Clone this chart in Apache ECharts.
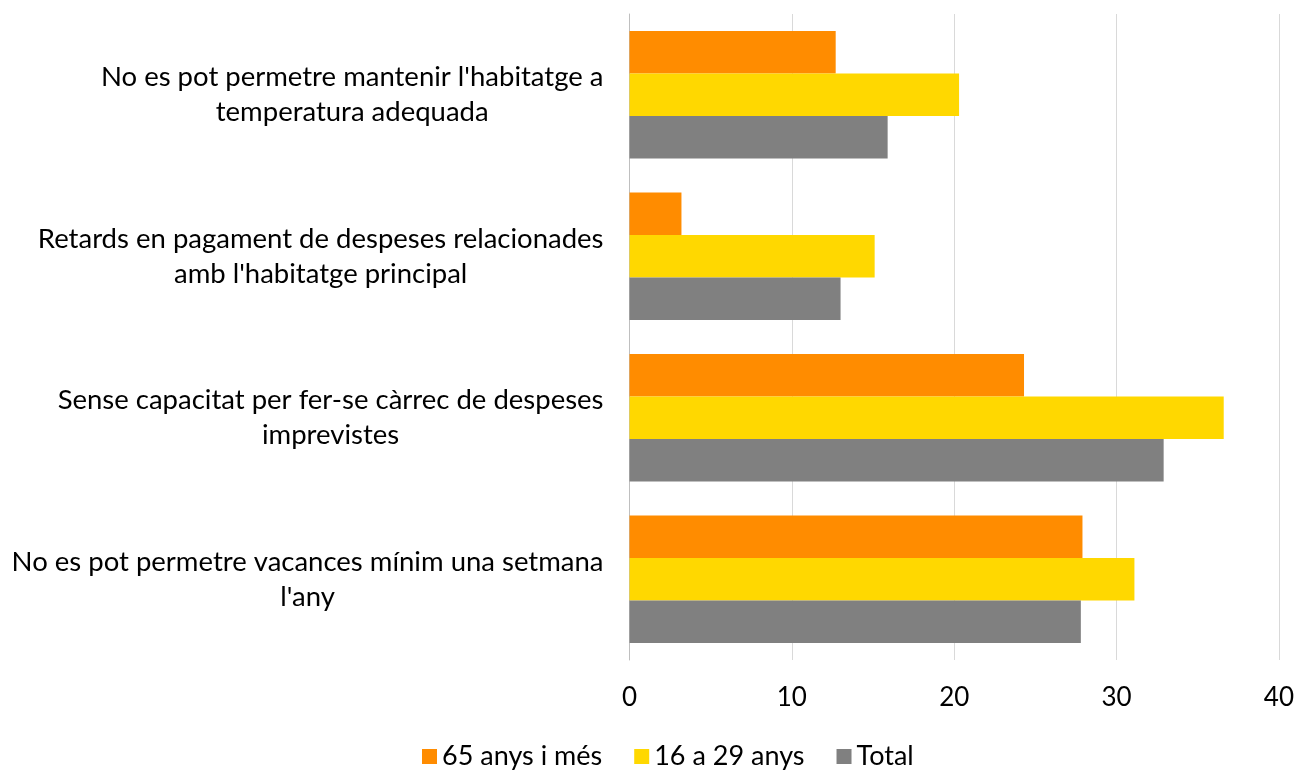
<!DOCTYPE html>
<html>
<head>
<meta charset="utf-8">
<script src="https://cdn.jsdelivr.net/npm/echarts@6/dist/echarts.min.js"></script>
<style>
	html, body { margin: 0; padding: 0; background: #fff; }
	#container { width: 1297px; height: 770px; }
</style>
</head>
<body>
<div id="container"></div>
<script>
var categories = [
	"No es pot permetre mantenir l'habitatge a\ntemperatura adequada",
	"Retards en pagament de despeses relacionades\namb l'habitatge principal",
	"Sense capacitat per fer-se càrrec de despeses\nimprevistes",
	"No es pot permetre vacances mínim una setmana\nl'any"
];
var seriesNames = ['65 anys i més', '16 a 29 anys', 'Total'];
var grans = [12.7, 3.2, 24.3, 27.9];		// 65 anys i més
var joves = [20.3, 15.1, 36.6, 31.1];		// 16 a 29 anys
var total = [15.9, 13.0, 32.9, 27.8];		// Total
var colors = ['#FF8C00', '#FFD800', '#808080'];

var fontName = 'Lato';
var dom = document.getElementById('container');
var chart = echarts.init(dom);

function barSeries(name, data, color) {
	return {
		name: name,
		type: 'bar',
		data: data,
		barGap: '0%',
		barCategoryGap: '21%',
		itemStyle: { color: color }
	};
}

var option = {
	animation: false,
	textStyle: { fontFamily: fontName },
	grid: {
		left: 629.5,
		right: 17,
		top: 14,
		bottom: 110
	},
	legend: {
		data: seriesNames,
		left: 417,
		top: 738,
		icon: 'rect',
		itemWidth: 15,
		itemHeight: 15,
		itemGap: 32,
		textStyle: { fontSize: 27, color: '#000', fontFamily: fontName }
	},
	xAxis: {
		type: 'value',
		min: 0,
		max: 40,
		interval: 10,
		axisLine: { show: false },
		axisTick: { show: false },
		splitLine: { lineStyle: { color: '#d9d9d9', width: 1 } },
		axisLabel: { fontSize: 26, color: '#000', margin: 25, fontFamily: fontName }
	},
	yAxis: {
		type: 'category',
		inverse: true,
		data: categories,
		axisLine: { show: true, lineStyle: { color: '#bfbfbf', width: 1 } },
		axisTick: { show: false },
		axisLabel: {
			margin: 26,
			align: 'right',
			formatter: function (v) { return '{c|' + v.split('\n').join('}\n{c|') + '}'; },
			rich: {
				c: { align: 'center', fontSize: 27.5, lineHeight: 35, color: '#000', fontFamily: fontName }
			}
		}
	},
	series: [
		barSeries(seriesNames[0], grans, colors[0]),
		barSeries(seriesNames[1], joves, colors[1]),
		barSeries(seriesNames[2], total, colors[2])
	]
};

chart.setOption(option);
</script>
</body>
</html>
